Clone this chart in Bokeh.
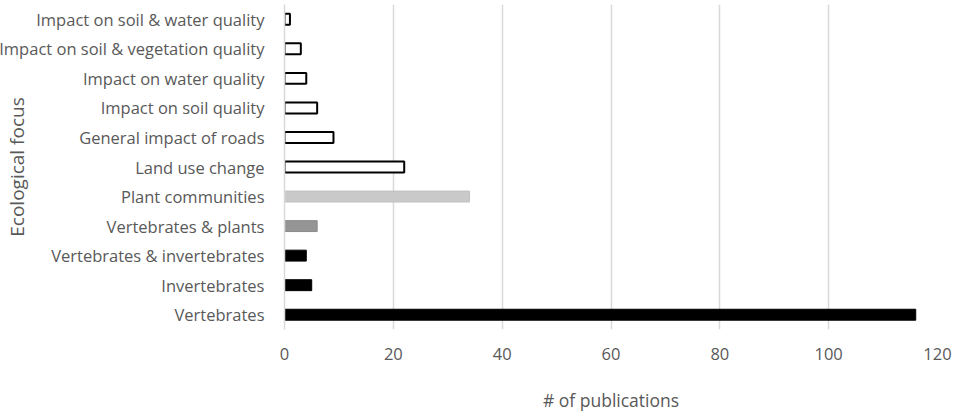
from bokeh.plotting import figure
from bokeh.models import ColumnDataSource, FactorRange, FixedTicker
from bokeh.embed import file_html
from bokeh.resources import INLINE

categories = [
    "Impact on soil & water quality",
    "Impact on soil & vegetation quality",
    "Impact on water quality",
    "Impact on soil quality",
    "General impact of roads",
    "Land use change",
    "Plant communities",
    "Vertebrates & plants",
    "Vertebrates & invertebrates",
    "Invertebrates",
    "Vertebrates",
]
publications = [1, 3, 4, 6, 9, 22, 34, 6, 4, 5, 116]
fill_colors = ["white"] * 6 + ["#c9c9c9", "#959595", "black", "black", "black"]
line_colors = ["black"] * 6 + ["#c0c0c0", "#8a8a8a", "black", "black", "black"]
line_widths = [2] * 6 + [1, 1, 1, 1, 1]
x_ticks = [0, 20, 40, 60, 80, 100, 120]

FONT = "Open Sans"
GREY = "#595959"
FS = "16.5px"

src = ColumnDataSource(dict(cat=categories, val=publications, fill=fill_colors,
                            line=line_colors, lw=line_widths))

p = figure(width=957, height=415, output_backend="svg", toolbar_location=None,
           y_range=FactorRange(factors=list(reversed(categories)), range_padding=0),
           x_range=(0, 120))
p.min_border_left = 284
p.min_border_right = 20
p.min_border_top = 4
p.min_border_bottom = 86
p.outline_line_color = None

p.hbar(y="cat", right="val", left=0, height=0.37, source=src,
       fill_color="fill", line_color="line", line_width="lw")

p.xaxis.ticker = FixedTicker(ticks=x_ticks)
p.xaxis.axis_line_color = None
p.xaxis.major_tick_line_color = None
p.xaxis.minor_tick_line_color = None
p.xaxis.major_label_standoff = 12
p.xaxis.major_label_text_font = FONT
p.xaxis.major_label_text_font_size = FS
p.xaxis.major_label_text_color = GREY
p.xaxis.axis_label = "# of publications"
p.xaxis.axis_label_text_font = FONT
p.xaxis.axis_label_text_font_size = "17.5px"
p.xaxis.axis_label_text_font_style = "normal"
p.xaxis.axis_label_text_color = GREY
p.xaxis.axis_label_standoff = 25

p.yaxis.axis_line_color = "#d9d9d9"
p.yaxis.axis_line_width = 1.5
p.yaxis.major_tick_line_color = None
p.yaxis.minor_tick_line_color = None
p.yaxis.major_label_standoff = 14
p.yaxis.major_label_text_font = FONT
p.yaxis.major_label_text_font_size = FS
p.yaxis.major_label_text_color = GREY
p.yaxis.axis_label = "Ecological focus"
p.yaxis.axis_label_text_font = FONT
p.yaxis.axis_label_text_font_size = "19px"
p.yaxis.axis_label_text_font_style = "normal"
p.yaxis.axis_label_text_color = GREY
p.yaxis.axis_label_standoff = -34

p.xgrid.grid_line_color = "#d9d9d9"
p.xgrid.grid_line_width = 1.5
p.ygrid.grid_line_color = None

open("out.html", "w").write(file_html(p, INLINE))
